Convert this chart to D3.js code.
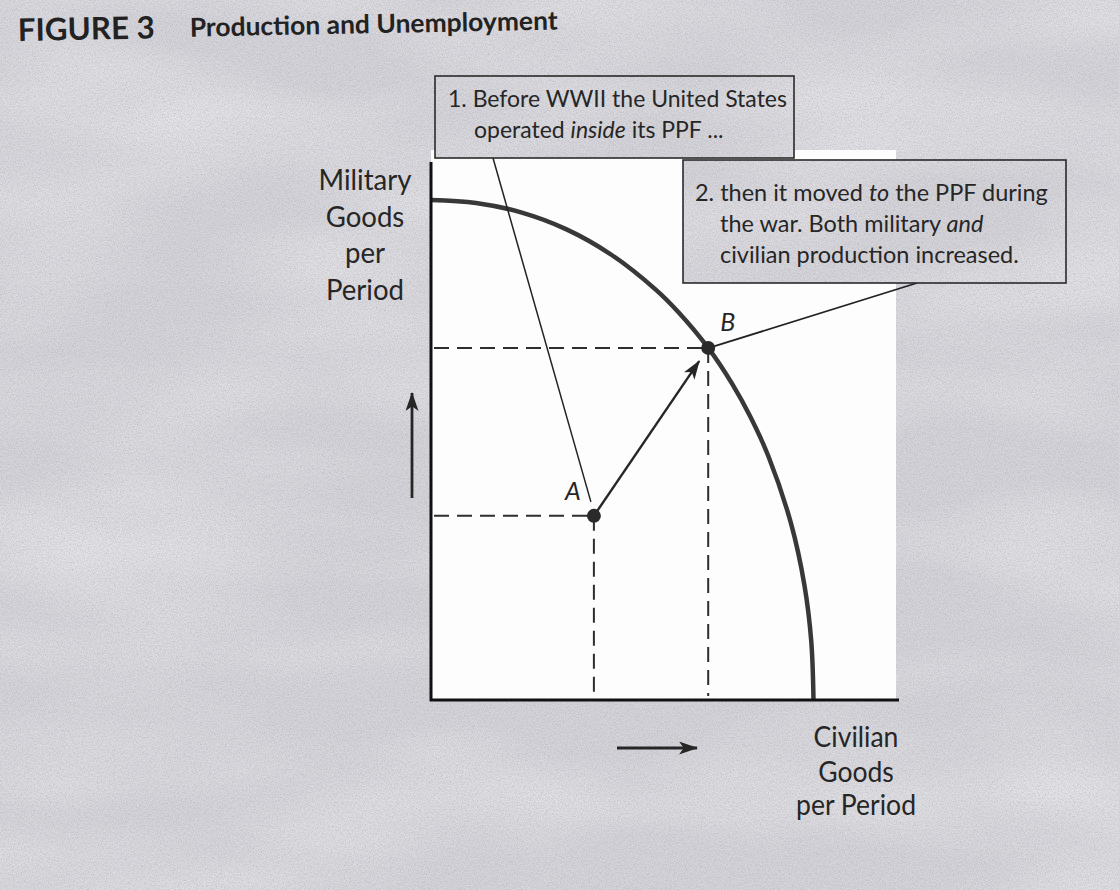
<!DOCTYPE html>
<html><head><meta charset="utf-8">
<script src="https://cdn.jsdelivr.net/npm/d3@7"></script>
<style>html,body{margin:0;padding:0;background:#d8d7dc;} svg{display:block}</style>
</head><body>
<svg id="chart" width="1119" height="890"></svg>
<script>
// ---------- data ----------
const ppfCivilian = [0, 10, 20, 30, 40, 50, 55, 61.6, 67, 71, 75, 80, 83, 84.5, 85];
const ppfMilitary = [92.6, 92.05, 90.3, 87.2, 82.5, 75.95, 71.8, 65.2, 58.45, 52.4, 45.1, 32.7, 21.2, 10.9, 0];
const pointNames = ["A", "B"];
const pointCivilian = [36.2, 61.6];
const pointMilitary = [34.1, 65.2];
const titleParts = ["FIGURE 3", "Production and Unemployment"];
const yLabelLines = ["Military", "Goods", "per", "Period"];
const xLabelLines = ["Civilian", "Goods", "per Period"];
const note1Lines = [
  [["1. Before WWII the United States", false]],
  [["operated ", false], ["inside", true], [" its PPF ...", false]]
];
const note2Lines = [
  [["2. then it moved ", false], ["to", true], [" the PPF during", false]],
  [["the war. Both military ", false], ["and", true]],
  [["civilian production increased.", false]]
];

// ---------- setup ----------
const W = 1119, H = 890;
const FONT = "Lato, 'Open Sans', sans-serif";
const INK = "#262626";
const svg = d3.select("#chart");
const defs = svg.append("defs");

const x = d3.scaleLinear().domain([0, 104]).range([431, 899]);
const y = d3.scaleLinear().domain([0, 100]).range([700, 160]);

// paper texture
const f = defs.append("filter").attr("id", "grain").attr("x", 0).attr("y", 0).attr("width", 1).attr("height", 1);
f.append("feTurbulence").attr("type", "fractalNoise").attr("baseFrequency", "0.75").attr("numOctaves", 2).attr("seed", 7).attr("result", "n");
f.append("feColorMatrix").attr("type", "matrix")
  .attr("values", "0 0 0 0 0.35  0 0 0 0 0.34  0 0 0 0 0.40  0.9 0 0 0 -0.33");
const f2 = defs.append("filter").attr("id", "blotch").attr("x", 0).attr("y", 0).attr("width", 1).attr("height", 1);
f2.append("feTurbulence").attr("type", "fractalNoise").attr("baseFrequency", "0.004 0.012").attr("numOctaves", 2).attr("seed", 3);
f2.append("feColorMatrix").attr("type", "matrix")
  .attr("values", "0 0 0 0 1  0 0 0 0 1  0 0 0 0 1  0.7 0 0 0 -0.25");

const paper = defs.append("g").attr("id", "paper");
paper.append("rect").attr("width", W).attr("height", H).attr("fill", "#d6d5da");
paper.append("rect").attr("width", W).attr("height", H).attr("filter", "url(#blotch)");
paper.append("rect").attr("width", W).attr("height", H).attr("filter", "url(#grain)");

svg.append("use").attr("href", "#paper");

// white plot panel
const panel = {x0: x(0), x1: 896, y0: 150, y1: y(0)};
svg.append("rect").attr("x", panel.x0).attr("y", panel.y0)
  .attr("width", panel.x1 - panel.x0).attr("height", panel.y1 - panel.y0).attr("fill", "#fdfdfd");

// arrow markers
function marker(id, len, wid) {
  defs.append("marker").attr("id", id).attr("viewBox", `0 0 ${len} ${wid}`)
    .attr("refX", len - 1).attr("refY", wid / 2).attr("markerUnits", "userSpaceOnUse")
    .attr("markerWidth", len).attr("markerHeight", wid).attr("orient", "auto")
    .append("path").attr("d", `M0,0 L${len},${wid/2} L0,${wid} L${len*0.25},${wid/2} Z`).attr("fill", INK);
}
marker("arr", 19, 13);

// ---------- title ----------
const tg = svg.append("g").attr("transform", "rotate(-1.1 18 41)");
const t1 = tg.append("text").attr("x", 18).attr("y", 41).attr("font-family", FONT).attr("font-weight", 700)
  .attr("font-size", 31).attr("fill", "#222").text(titleParts[0]);
const t2 = tg.append("text").attr("x", 190).attr("y", 40).attr("font-family", FONT).attr("font-weight", 700)
  .attr("font-size", 26).attr("fill", "#222").text(titleParts[1]);

// helper: fit width by horizontal scaling of a text block
function fitBlock(texts, targetWidth, anchorXs) {
  const nat = d3.max(texts, t => t.node().getComputedTextLength());
  const s = targetWidth / nat;
  texts.forEach((t, i) => {
    const ax = anchorXs[i];
    t.attr("transform", `translate(${ax},0) scale(${s},1) translate(${-ax},0)`);
  });
}
fitBlock([t1], 137, [18]);
fitBlock([t2], 368, [190]);

// ---------- guide lines (dashed) ----------
const guides = svg.append("g").attr("stroke", "#2e2e2e").attr("stroke-width", 2).attr("stroke-dasharray", "15,8").attr("fill", "none");
pointNames.forEach((n, i) => {
  guides.append("line").attr("x1", x(0) + 3).attr("x2", x(pointCivilian[i])).attr("y1", y(pointMilitary[i])).attr("y2", y(pointMilitary[i]));
  guides.append("line").attr("x1", x(pointCivilian[i])).attr("x2", x(pointCivilian[i])).attr("y1", y(pointMilitary[i])).attr("y2", y(0) - 4);
});

// ---------- PPF curve ----------
const ppf = ppfCivilian.map((c, i) => [c, ppfMilitary[i]]);
svg.append("path").datum(ppf)
  .attr("d", d3.line().x(d => x(d[0])).y(d => y(d[1])).curve(d3.curveCatmullRom.alpha(0.5)))
  .attr("fill", "none").attr("stroke", "#383838").attr("stroke-width", 4.5);

// ---------- axes ----------
const axes = svg.append("g").attr("stroke", "#111").attr("stroke-width", 3).attr("fill", "none");
axes.append("path").attr("d", d3.line()([[x(0), 162], [x(0), y(0)], [x(104), y(0)]]));

// ---------- callout boxes ----------
function box(id, bx, by, bw, bh) {
  defs.append("clipPath").attr("id", id).append("rect").attr("x", bx).attr("y", by).attr("width", bw).attr("height", bh);
  svg.append("use").attr("href", "#paper").attr("clip-path", `url(#${id})`);
  svg.append("rect").attr("x", bx).attr("y", by).attr("width", bw).attr("height", bh)
    .attr("fill", "none").attr("stroke", "#2a2a2a").attr("stroke-width", 1.6);
}
function noteText(lines, starts, baselines, fontSize, target) {
  const ts = lines.map((segs, i) => {
    const t = svg.append("text").attr("x", starts[i]).attr("y", baselines[i])
      .attr("font-family", FONT).attr("font-size", fontSize).attr("fill", INK);
    segs.forEach(s => t.append("tspan").attr("font-style", s[1] ? "italic" : "normal").text(s[0]));
    return t;
  });
  fitBlock(ts, target, starts);
}

// leader lines
const A = [x(pointCivilian[0]), y(pointMilitary[0])];
const B = [x(pointCivilian[1]), y(pointMilitary[1])];
svg.append("line").attr("x1", 493).attr("y1", 158).attr("x2", A[0] - 3).attr("y2", A[1] - 14)
  .attr("stroke", "#222").attr("stroke-width", 1.5);
svg.append("line").attr("x1", 917).attr("y1", 283).attr("x2", B[0] + 4).attr("y2", B[1] - 1)
  .attr("stroke", "#222").attr("stroke-width", 1.8);

box("clip1", 435, 76, 359, 82);
noteText(note1Lines, [448, 474], [107, 138], 24, 339);
box("clip2", 683, 160, 383, 123);
noteText(note2Lines, [695, 720, 720], [201, 232, 263], 24, 353);

// ---------- movement arrow A -> B ----------
const dx = B[0] - A[0], dy = B[1] - A[1], L = Math.hypot(dx, dy);
svg.append("line")
  .attr("x1", A[0] + dx / L * 6).attr("y1", A[1] + dy / L * 6)
  .attr("x2", B[0] - dx / L * 16).attr("y2", B[1] - dy / L * 16)
  .attr("stroke", INK).attr("stroke-width", 2.4).attr("marker-end", "url(#arr)");

// ---------- points ----------
svg.selectAll("circle.pt").data(pointNames).join("circle").attr("class", "pt")
  .attr("cx", (d, i) => x(pointCivilian[i])).attr("cy", (d, i) => y(pointMilitary[i]))
  .attr("r", 7).attr("fill", "#2a2a2a");
const labOff = [[-29, -16], [12, -17]];
svg.selectAll("text.pl").data(pointNames).join("text").attr("class", "pl")
  .attr("x", (d, i) => x(pointCivilian[i]) + labOff[i][0]).attr("y", (d, i) => y(pointMilitary[i]) + labOff[i][1])
  .attr("font-family", FONT).attr("font-style", "italic").attr("font-size", 25).attr("fill", INK).text(d => d);

// ---------- axis titles ----------
const yl = yLabelLines.map((s, i) => svg.append("text").attr("x", 365).attr("y", [190, 227, 263, 300][i])
  .attr("text-anchor", "middle").attr("font-family", FONT).attr("font-size", 29).attr("fill", INK).text(s));
fitBlock(yl, 93, yl.map(() => 365));
const xl = xLabelLines.map((s, i) => svg.append("text").attr("x", 856).attr("y", [747, 782, 815][i])
  .attr("text-anchor", "middle").attr("font-family", FONT).attr("font-size", 29).attr("fill", INK).text(s));
fitBlock(xl, 120, xl.map(() => 856));

// direction arrows beside axes
svg.append("line").attr("x1", 412).attr("y1", 498).attr("x2", 412).attr("y2", 393)
  .attr("stroke", INK).attr("stroke-width", 2.8).attr("marker-end", "url(#arr)");
svg.append("line").attr("x1", 617).attr("y1", 748).attr("x2", 697).attr("y2", 748)
  .attr("stroke", INK).attr("stroke-width", 2.8).attr("marker-end", "url(#arr)");
</script>
</body></html>
